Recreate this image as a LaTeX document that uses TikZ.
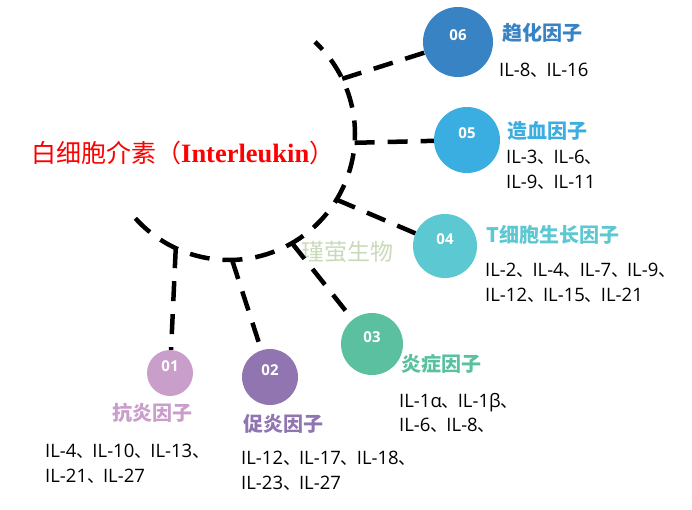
\documentclass[tikz,border=0pt]{standalone}
\usepackage{fontspec}
\setmainfont{Liberation Serif}
\newfontfamily\cjk{Noto Sans CJK SC}
\newfontfamily\numfont{Open Sans}
\newcommand\dn{{\cjk\fontsize{17.5}{24.5}\selectfont 、}\kern-1.5pt}
\definecolor{cSix}{HTML}{3783C3}
\definecolor{cFive}{HTML}{3AAEE0}
\definecolor{cFour}{HTML}{5BC8D2}
\definecolor{cThree}{HTML}{5BC0A0}
\definecolor{cTwo}{HTML}{9175B0}
\definecolor{cOne}{HTML}{C99ECB}
\definecolor{wmark}{HTML}{C9DABA}
\tikzset{
  dashline/.style={line width=4.5pt, dash pattern=on 20pt off 13pt},
  bubble/.style={circle, inner sep=0pt, text=white, text height=11pt, text depth=14pt,
    font=\numfont\bfseries\fontsize{15}{15}\selectfont},
  cattitle/.style={anchor=west, inner sep=0pt, font=\cjk\bfseries\fontsize{20}{24}\selectfont},
  catdata/.style={anchor=west, inner sep=0pt, align=left, font=\numfont\fontsize{18.5}{24.5}\selectfont}
}
\begin{document}
\begin{tikzpicture}[x=1pt,y=-1pt]
\useasboundingbox (0,0) rectangle (692,509);
% main arc
\coordinate (c) at (229,134);
\draw[dashline] plot[domain=138:-47, samples=80] ({229+126*cos(\x)}, {134+126*sin(\x)});
\path (c) ++(115:126) coordinate (j1);
\path (c) ++(88.6:126) coordinate (j2);
\path (c) ++(60:126) coordinate (j3);
\path (c) ++(31.4:126) coordinate (j4);
\path (c) ++(4:126) coordinate (j5);
\path (c) ++(-26:126) coordinate (j6);
% title
\node[anchor=base west, inner sep=0pt, text=red] (title) at (31,162)
  {\cjk\fontsize{25}{25}\selectfont 白细胞介素（\fontsize{26.5}{26}\selectfont\rmfamily\bfseries Interleukin\cjk\mdseries\fontsize{25}{25}\selectfont ）};
% watermark
\node[text=wmark, inner sep=0pt] (wm) at (347,252) {\cjk\fontsize{23}{23}\selectfont 瑾萤生物};
% bubbles
\node[bubble, fill=cSix, minimum size=70pt] (n06) at (458,42) {06};
\node[bubble, fill=cFive, minimum size=66pt] (n05) at (467,140) {05};
\node[bubble, fill=cFour, minimum size=64pt] (n04) at (445,246) {04};
\node[bubble, fill=cThree, minimum size=62pt] (n03) at (372,344) {03};
\node[bubble, fill=cTwo, minimum size=56pt] (n02) at (270,377) {02};
\node[bubble, fill=cOne, minimum size=46pt] (n01) at (170,373) {01};
% branches
\draw[dashline] (j6) -- (n06);
\draw[dashline] (j5) -- (n05);
\draw[dashline] (j4) -- (n04);
\draw[dashline] (j3) -- (n03);
\draw[dashline] (j2) -- (n02);
\draw[dashline] (j1) -- (n01);
% titles
\node[cattitle, text=cSix] (t06) at (502,33) {趋化因子};
\node[cattitle, text=cFive] (t05) at (507,131) {造血因子};
\node[cattitle, text=cFour] (t04) at (486,235) {T细胞生长因子};
\node[cattitle, text=cThree] (t03) at (401,364) {炎症因子};
\node[cattitle, text=cTwo] (t02) at (243,424) {促炎因子};
\node[cattitle, text=cOne] (t01) at (112,413) {抗炎因子};
% data
\node[catdata] (d06) at (499,70) {IL-8\dn IL-16};
\node[catdata] (d05) at (506,170) {IL-3\dn IL-6\dn\\IL-9\dn IL-11};
\node[catdata] (d04) at (485,283) {IL-2\dn IL-4\dn IL-7\dn IL-9\dn\\IL-12\dn IL-15\dn IL-21};
\node[catdata] (d03) at (399,413) {IL-1α\dn IL-1β\dn\\IL-6\dn IL-8\dn};
\node[catdata] (d02) at (241,471) {IL-12\dn IL-17\dn IL-18\dn\\IL-23\dn IL-27};
\node[catdata] (d01) at (45,464) {IL-4\dn IL-10\dn IL-13\dn\\IL-21\dn IL-27};
\end{tikzpicture}
\end{document}
